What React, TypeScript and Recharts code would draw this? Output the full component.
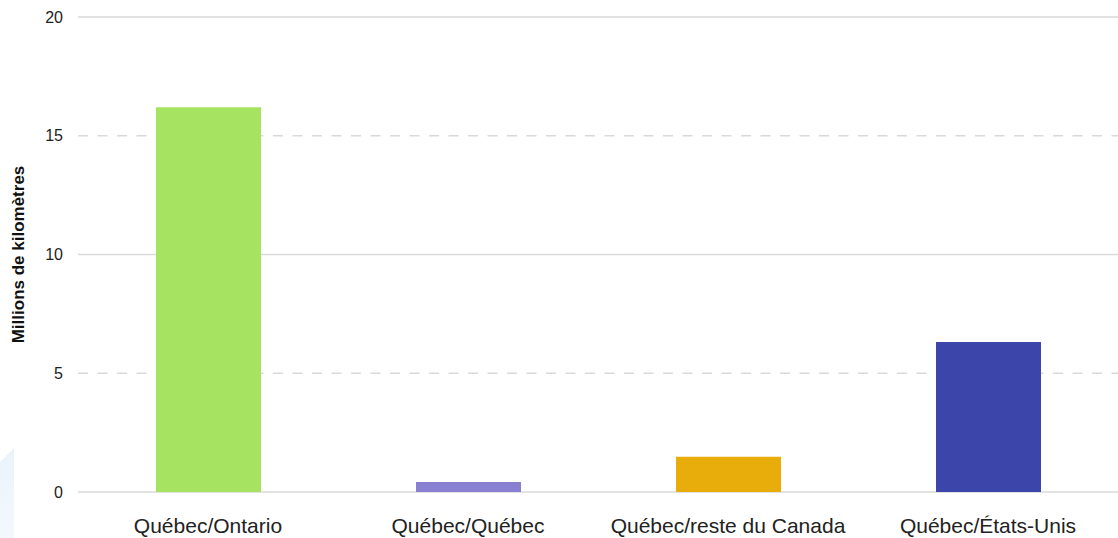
import React from "react";
import { BarChart, Bar, XAxis, YAxis, Cell, CartesianGrid } from "recharts";

// données
const categories = ["Québec/Ontario", "Québec/Québec", "Québec/reste du Canada", "Québec/États-Unis"];
const distances = [16.2, 0.42, 1.48, 6.32];
const barColors = ["#a6e360", "#8a80d1", "#e9ad0b", "#3c45aa"];
const yTicks = [0, 5, 10, 15, 20];

const data = categories.map((name, i) => ({ name, value: distances[i] }));
const solidLines = yTicks.filter((t) => t % 10 === 0);
const dashedLines = yTicks.filter((t) => t % 10 !== 0);

const YLabel = (props: any) => {
  const { viewBox } = props;
  const cx = 18;
  const cy = viewBox.y + viewBox.height / 2;
  return (
    <text
      x={cx}
      y={cy}
      transform={`rotate(-90, ${cx}, ${cy})`}
      textAnchor="middle"
      dominantBaseline="central"
      fontSize={17}
      fontWeight="bold"
      fill="#111"
    >
      Millions de kilomètres
    </text>
  );
};

const App: React.FC = () => {
  return (
    <div style={{ position: "absolute", top: 0, left: 0, width: 1118, height: 538, fontFamily: "'Liberation Sans', Arial, sans-serif", background: "#fff" }}>
      {/* filigrane bleu pâle en bas à gauche */}
      <div
        style={{
          position: "absolute",
          left: 0,
          top: 448,
          width: 14,
          height: 90,
          background: "linear-gradient(180deg, #eaf3fb, #f3f8fd)",
          clipPath: "polygon(0 14px, 100% 0, 100% 100%, 0 100%)",
        }}
      />
      <BarChart width={1118} height={538} data={data} margin={{ top: 17, right: 0, bottom: 0, left: 0 }} style={{ position: "absolute", top: 0, left: 0 }}>
        <CartesianGrid vertical={false} horizontalValues={solidLines} stroke="#d9d9d9" strokeWidth={1.5} />
        <CartesianGrid vertical={false} horizontalValues={dashedLines} stroke="#d9d9d9" strokeWidth={1.5} strokeDasharray="10 9.5" />
        <XAxis
          dataKey="name"
          height={46}
          axisLine={false}
          tickLine={false}
          tickSize={0}
          tickMargin={26}
          tick={{ fontSize: 21, fill: "#222" }}
          interval={0}
        />
        <YAxis
          width={78}
          domain={[0, 20]}
          ticks={yTicks}
          axisLine={false}
          tickLine={false}
          tickSize={0}
          tickMargin={15}
          tick={{ fontSize: 16, fill: "#222" }}
          label={<YLabel />}
        />
        <Bar dataKey="value" barSize={105} isAnimationActive={false}>
          {data.map((_d, i) => (
            <Cell key={`cell-${i}`} fill={barColors[i]} />
          ))}
        </Bar>
      </BarChart>
    </div>
  );
};

export default App;
